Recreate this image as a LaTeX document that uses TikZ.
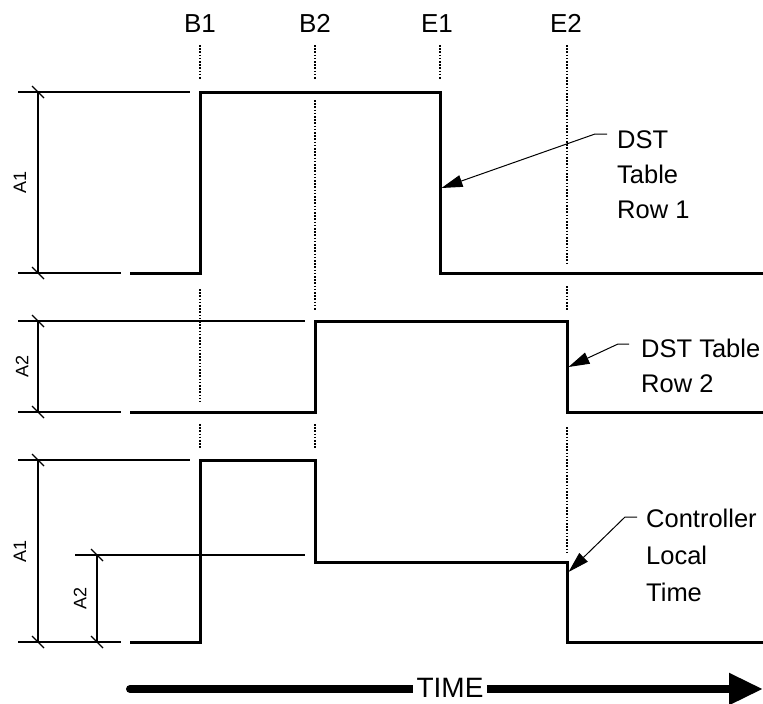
\documentclass[tikz,border=0pt]{standalone}
\usepackage{fontspec}
\setmainfont{Liberation Sans}
\usetikzlibrary{arrows.meta,positioning}

\begin{document}
\begin{tikzpicture}[x=1pt,y=-1pt,
    signal/.style={line width=3pt},
    thin/.style={line width=1.1pt},
    guide/.style={line width=1.2pt, dash pattern=on 1.6pt off 1.6pt},
    leader/.style={line width=1pt, -{Triangle[length=21pt,width=12pt]}},
    tag/.style={font=\fontsize{25.5}{30}\selectfont, inner sep=0pt, anchor=base west}]
  \useasboundingbox (0,0) rectangle (763,704);

  % time marks
  \begin{scope}[every node/.style={font=\fontsize{26}{30}\selectfont, inner sep=0pt, anchor=base}]
    \node (B1) at (200,32) {B1};
    \node (B2) at (315,32) {B2};
    \node (E1) at (437,32) {E1};
    \node (E2) at (566,32) {E2};
  \end{scope}
  \foreach \x/\a/\b in {200/45/80, 200/289/402, 200/424/448,
                        315/45/80, 315/100/310, 315/424/448,
                        440/45/80,
                        567/45/263, 567/286/310, 567/427/552}
    \draw[guide] (\x,\a) -- (\x,\b);

  % signals
  \draw[signal] (130,273) -- (200,273) -- (200,92) -- (440,92) -- (440,273) -- (763,273);
  \draw[signal] (130,412) -- (315,412) -- (315,321) -- (567,321) -- (567,412) -- (763,412);
  \draw[signal] (130,642) -- (200,642) -- (200,460) -- (315,460) -- (315,562)
    -- (567,562) -- (567,642) -- (763,642);

  % extension lines
  \foreach \a/\b/\y in {18/190/92, 18/121/273, 18/305/321, 18/121/412,
                        18/190/460, 75/305/555, 18/121/642}
    \draw[thin] (\a,\y) -- (\b,\y);

  % dimensions
  \foreach \x/\a/\b in {38/92/273, 38/321/412, 38/460/642, 97/555/642} {
    \draw[thin] (\x,\a) -- (\x,\b);
    \draw[thin] (\x-6,\a-6) -- (\x+6,\a+6);
    \draw[thin] (\x-6,\b-6) -- (\x+6,\b+6);
  }
  \begin{scope}[every node/.style={font=\fontsize{18}{20}\selectfont, inner sep=0pt, rotate=90}]
    \node (dimA) at (20,182) {A1};
    \node (dimB) at (22,366) {A2};
    \node (dimC) at (20,551) {A1};
    \node (dimD) at (80,598) {A2};
  \end{scope}

  % notes
  \node[tag] (rowA1) at (617,148) {DST};
  \node[tag] (rowA2) at ([yshift=-35pt]rowA1.base west) {Table};
  \node[tag] (rowA3) at ([yshift=-35pt]rowA2.base west) {Row 1};
  \node[tag] (rowB1) at (641,357) {DST Table};
  \node[tag] (rowB2) at ([yshift=-35pt]rowB1.base west) {Row 2};
  \node[tag] (locC1) at (646,527) {Controller};
  \node[tag] (locC2) at ([yshift=-37pt]locC1.base west) {Local};
  \node[tag] (locC3) at ([yshift=-37pt]locC2.base west) {Time};

  \coordinate (tipA) at (441.5,188);
  \coordinate (tipB) at (568.5,367);
  \coordinate (tipC) at (568.5,572);
  \coordinate (kneeA) at (595,134);
  \coordinate (kneeB) at (618,344);
  \coordinate (kneeC) at (625,517);
  \draw[leader] ([xshift=-10pt]rowA1.west |- kneeA) -- (kneeA) -- (tipA);
  \draw[leader] ([xshift=-12pt]rowB1.west |- kneeB) -- (kneeB) -- (tipB);
  \draw[leader] ([xshift=-9pt]locC1.west |- kneeC) -- (kneeC) -- (tipC);

  % time axis
  \coordinate (axis0) at (130,689);
  \coordinate (axis1) at (763,689);
  \draw[line width=8pt, line cap=round, -{Triangle[length=34pt,width=30pt]}] (axis0) -- (axis1);
  \node[fill=white, inner xsep=4pt, inner ysep=1pt, anchor=base,
        font=\fontsize{28}{30}\selectfont] (time) at (450,697) {TIME};
\end{tikzpicture}
\end{document}
